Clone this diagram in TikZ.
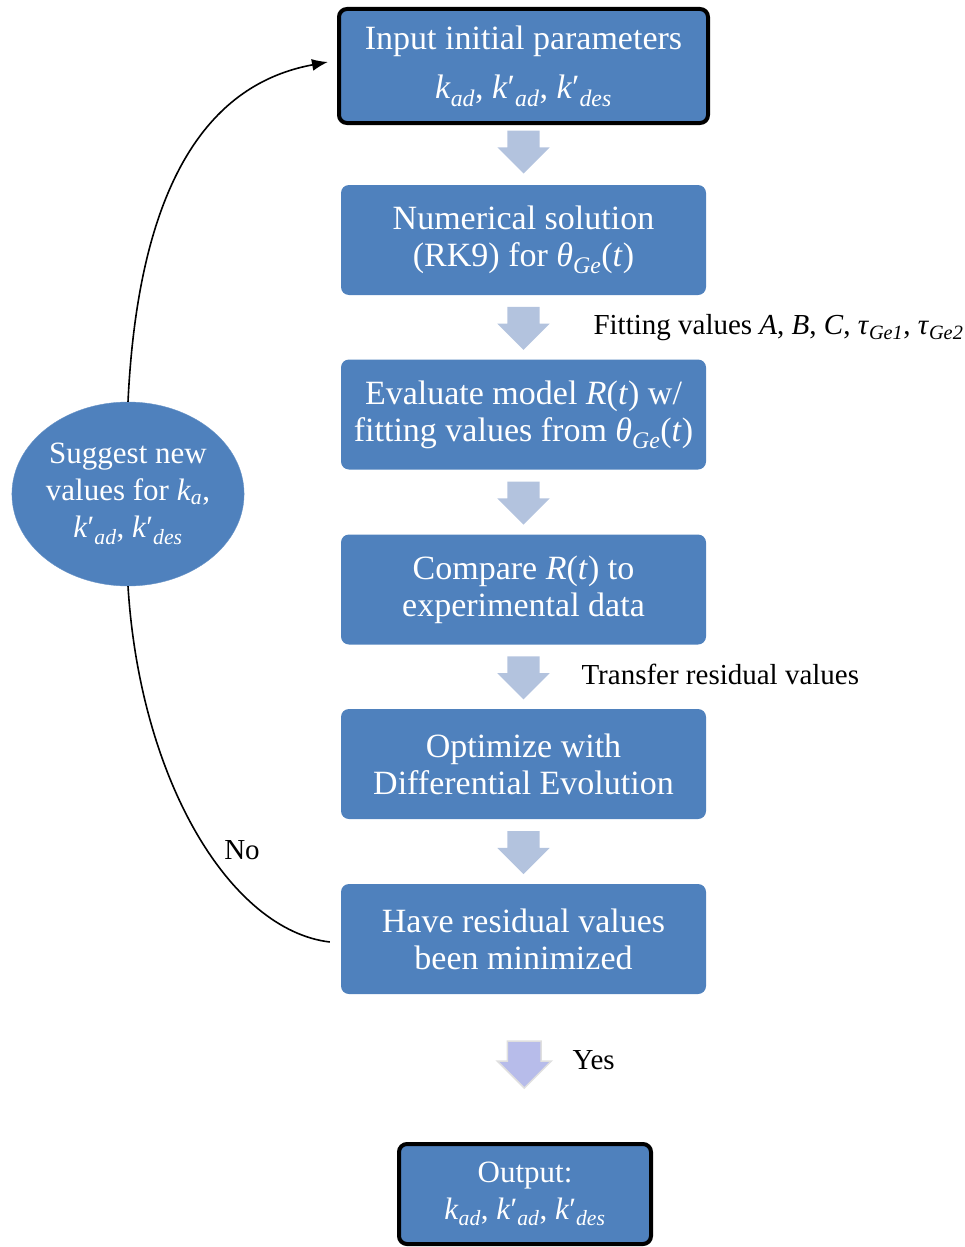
\documentclass[tikz,border=0pt]{standalone}
\usepackage{fontspec}
\setmainfont{Liberation Serif}
\usetikzlibrary{shapes.geometric,shapes.arrows,arrows.meta,calc}
\definecolor{boxblue}{HTML}{4F81BD}
\definecolor{arrowgray}{HTML}{B3C3DE}
\definecolor{yeslav}{HTML}{B7BCEA}
\newcommand{\kk}[1]{\textit{k}\textsubscript{\textit{#1}}}
\newcommand{\kp}[1]{\textit{k}′\textsubscript{\textit{#1}}}
\begin{document}
\begin{tikzpicture}[x = 1pt, y = -1pt,
	stepbox/.style = {rectangle, rounded corners = 8pt, fill = boxblue, text = white, align = center,
		minimum width = 365pt, minimum height = 110pt, inner sep = 0pt, font = \fontsize{34}{37}\selectfont},
	endbox/.style = {stepbox, draw = black, line width = 4pt},
	blockarrow/.style = {single arrow, shape border rotate = 270, fill = arrowgray, inner xsep = 16pt, inner ysep = 0pt,
		minimum height = 43pt, minimum width = 52pt, single arrow head extend = 10pt},
	note/.style = {anchor = west, font = \fontsize{29}{33}\selectfont}]
		\useasboundingbox (0, 0) rectangle (964, 1247);
		% boxes
		\node[endbox, minimum width = 369pt, minimum height = 114pt] (input) at (523.5, 66)
			{Input initial parameters\\[12pt] \kk{ad}, \kp{ad}, \kp{des}};
		\node[stepbox] (numsol) at (523.5, 240) {Numerical solution\\ (RK9) for \textit{θ}\textsubscript{\textit{Ge}}(\textit{t})};
		\node[stepbox] (evalm) at (523.5, 414.5) {Evaluate model \textit{R}(\textit{t}) w/\\ fitting values from \textit{θ}\textsubscript{\textit{Ge}}(\textit{t})};
		\node[stepbox] (compare) at (523.5, 589.5) {Compare \textit{R}(\textit{t}) to\\ experimental data};
		\node[stepbox] (optimize) at (523.5, 764) {Optimize with\\ Differential Evolution};
		\node[stepbox] (minimized) at (523.5, 939) {Have residual values\\ been minimized};
		\node[endbox, minimum width = 252pt, minimum height = 100pt, font = \fontsize{31}{37}\selectfont] (output) at (525, 1194)
			{Output:\\ \kk{ad}, \kp{ad}, \kp{des}};
		\node[ellipse, fill = boxblue, draw = boxblue!85!white, text = white, align = center, inner sep = 0pt,
			minimum width = 232pt, minimum height = 184pt, font = \fontsize{31}{37}\selectfont] (suggest) at (128, 494)
			{Suggest new\\ values for \kk{a},\\ \kp{ad}, \kp{des}};
		% block arrows
		\node[blockarrow] (a1) at ($(input.south)!0.5!(numsol.north) + (0, -11)$) {};
		\node[blockarrow] (a2) at ($(numsol.south)!0.5!(evalm.north) + (0, -7)$) {};
		\node[blockarrow] (a3) at ($(evalm.south)!0.5!(compare.north) + (0, -7)$) {};
		\node[blockarrow] (a4) at ($(compare.south)!0.5!(optimize.north) + (0, -7)$) {};
		\node[blockarrow] (a5) at ($(optimize.south)!0.5!(minimized.north) + (0, -7)$) {};
		\node[blockarrow, fill = yeslav, draw = gray!25, line width = 1.5pt, inner xsep = 16pt, minimum width = 54pt,
			minimum height = 47pt] (a6) at ($(minimized.south)!0.5!(output.north) + (0, -12)$) {};
		% loop back
		\draw[line width = 1.6pt, -{Latex[length = 16pt, width = 12pt]}] (suggest.north)
			.. controls (140, 150) and (230, 80) .. ([xshift = -9pt, yshift = 4pt]input.west);
		\draw[line width = 1.6pt] (suggest.south)
			.. controls (140, 780) and (230, 930) .. ([xshift = -11pt, yshift = -3pt]minimized.west);
		% labels
		\node[note] (fitting) at (590, 328) {Fitting values \textit{A}, \textit{B}, \textit{C}, \textit{τ}\textsubscript{\textit{Ge1}}, \textit{τ}\textsubscript{\textit{Ge2}}};
		\node[note] (transfer) at (578, 674) {Transfer residual values};
		\node[note, anchor = center] (no) at (242, 850) {No};
		\node[note] (yes) at (569, 1060) {Yes};
	\end{tikzpicture}
\end{document}
